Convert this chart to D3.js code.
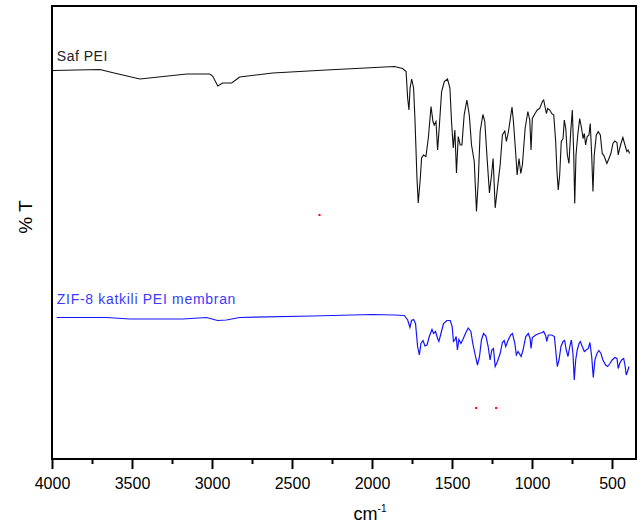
<!DOCTYPE html>
<html>
<head>
<meta charset="utf-8">
<script src="https://cdn.jsdelivr.net/npm/d3@7"></script>
<style>
  body { margin: 0; background: #fff; }
  text { font-family: "Liberation Sans", Arial, sans-serif; }
</style>
</head>
<body>
<div id="chart"></div>
<script>
// FTIR spectra: pure PEI vs ZIF-8 loaded PEI membrane

// [wavenumber (cm-1), %T (arbitrary offset units)]
const safPEI = [
  [3994, 77.7], [3700, 77.9], [3638, 77.4], [3451, 76.0], [3158, 77.0], [3014, 77.0],
  [2996, 76.6], [2964, 74.6], [2933, 75.2], [2877, 75.2], [2827, 76.4], [2621, 77.2],
  [2285, 77.8], [1860, 78.5], [1809, 78.1], [1787, 77.5], [1777, 72.1], [1769, 69.8],
  [1762, 74.2], [1752, 76.0], [1740, 74.2], [1731, 67.5], [1719, 56.2], [1711, 51.2],
  [1698, 56.2], [1690, 60.2], [1678, 60.8], [1663, 60.5], [1648, 64.2], [1631, 70.5],
  [1619, 67.5], [1611, 66.8], [1600, 67.5], [1590, 61.8], [1580, 66.2], [1565, 73.5],
  [1548, 75.5], [1528, 76.0], [1513, 74.2], [1503, 67.5], [1492, 62.2], [1482, 65.8],
  [1472, 57.2], [1461, 64.5], [1449, 62.8], [1438, 62.8], [1424, 68.8], [1407, 71.8],
  [1392, 68.8], [1378, 62.8], [1361, 59.5], [1347, 49.5], [1336, 55.5], [1324, 65.5],
  [1307, 68.9], [1295, 67.5], [1282, 60.8], [1266, 53.2], [1253, 56.8], [1243, 60.1],
  [1230, 50.2], [1216, 54.2], [1199, 58.8], [1185, 64.8], [1170, 65.6], [1160, 63.5],
  [1147, 65.5], [1125, 70.4], [1116, 67.5], [1101, 60.8], [1093, 56.8], [1081, 60.1],
  [1070, 57.1], [1060, 58.8], [1043, 66.1], [1026, 69.5], [1014, 67.8], [1006, 61.8],
  [998, 68.1], [981, 69.1], [967, 69.8], [952, 70.1], [935, 71.5], [927, 71.8],
  [919, 70.5], [910, 69.1], [902, 70.1], [889, 69.8], [877, 69.1], [864, 68.8],
  [852, 63.5], [844, 57.5], [836, 53.8], [827, 56.8], [817, 63.5], [806, 64.1],
  [798, 67.8], [789, 66.1], [779, 60.8], [769, 59.1], [758, 65.5], [748, 69.8],
  [739, 60.8], [733, 51.1], [725, 60.8], [714, 64.8], [702, 68.1], [690, 66.1],
  [681, 64.1], [673, 65.1], [665, 62.8], [655, 64.5], [644, 64.8], [636, 67.1],
  [627, 60.8], [619, 53.5], [611, 60.8], [598, 64.8], [586, 65.5], [573, 64.8],
  [561, 61.1], [552, 60.8], [540, 59.8], [532, 59.1], [519, 60.1], [507, 61.1],
  [494, 63.1], [482, 63.6], [469, 63.3], [461, 60.8], [452, 62.1], [444, 63.1],
  [432, 64.3], [419, 62.8], [407, 61.5], [399, 61.8], [390, 61.1]
];

const zifPEI = [
  [3971, 28.3], [3659, 28.3], [3514, 28.0], [3183, 28.0], [3035, 28.3], [2965, 27.7],
  [2910, 27.8], [2827, 28.3], [2372, 28.6], [1998, 28.9], [1860, 28.8], [1798, 28.7],
  [1777, 27.8], [1763, 26.3], [1753, 27.7], [1740, 27.9], [1728, 27.1], [1715, 22.5],
  [1704, 20.8], [1694, 23.1], [1681, 23.7], [1669, 22.6], [1656, 22.8], [1642, 24.5],
  [1625, 25.9], [1615, 25.1], [1603, 25.5], [1590, 24.1], [1582, 23.5], [1569, 25.1],
  [1553, 27.1], [1532, 27.7], [1511, 27.7], [1499, 26.5], [1491, 23.5], [1482, 23.8],
  [1474, 24.5], [1466, 21.8], [1457, 23.9], [1444, 23.1], [1432, 23.9], [1416, 25.1],
  [1399, 26.2], [1382, 25.5], [1370, 23.1], [1357, 21.1], [1341, 18.8], [1328, 20.5],
  [1316, 23.8], [1303, 25.1], [1288, 24.6], [1274, 22.5], [1262, 19.8], [1251, 21.8],
  [1241, 22.1], [1230, 18.5], [1216, 19.5], [1199, 21.1], [1185, 23.3], [1174, 23.7],
  [1164, 22.5], [1149, 23.8], [1133, 24.8], [1122, 25.1], [1107, 23.1], [1098, 20.8],
  [1087, 21.5], [1068, 20.5], [1056, 21.8], [1039, 24.5], [1023, 25.1], [1012, 24.1],
  [1006, 22.1], [998, 24.3], [977, 24.8], [956, 25.1], [935, 25.3], [927, 25.5],
  [914, 24.6], [908, 23.5], [898, 24.8], [877, 24.8], [860, 24.5], [852, 21.8],
  [842, 18.5], [831, 19.8], [819, 22.5], [806, 23.5], [796, 23.7], [786, 21.8],
  [775, 20.5], [764, 22.5], [754, 23.8], [744, 21.1], [736, 15.8], [727, 19.8],
  [717, 21.8], [706, 23.1], [698, 23.5], [686, 22.5], [673, 21.5], [661, 21.8],
  [648, 22.1], [638, 23.3], [627, 20.5], [617, 16.3], [607, 19.8], [594, 21.1],
  [582, 21.7], [569, 21.1], [557, 19.8], [540, 18.8], [527, 18.5], [515, 19.0],
  [499, 19.8], [482, 20.3], [469, 20.1], [461, 18.1], [452, 19.1], [440, 19.8],
  [427, 20.1], [419, 18.8], [411, 16.8], [403, 17.5], [394, 18.5]
];

// stray red specks present in the original export
const specks = [[4000, 48.4], [2328, 48.8], [1349, 10.2], [1224, 10.2]];

const xTicks = [4000, 3500, 3000, 2500, 2000, 1500, 1000, 500];
const seriesNames = ["Saf PEI", "ZIF-8 katkili PEI membran"];

const width = 643, height = 527;
const margin = {top: 6, right: 7, bottom: 68, left: 52};

const svg = d3.select("#chart")
    .append("svg")
    .attr("width", width)
    .attr("height", height);

const x = d3.scaleLinear()
    .domain([4000, 350])
    .range([margin.left, width - margin.right]);

const y = d3.scaleLinear()
    .domain([0, 90.6])
    .range([height - margin.bottom, margin.top]);

const line = d3.line()
    .x(d => x(d[0]))
    .y(d => y(d[1]));

// Spectra
svg.append("path")
    .datum(safPEI)
    .attr("fill", "none")
    .attr("stroke", "#111")
    .attr("stroke-width", 1.1)
    .attr("d", line);

svg.append("path")
    .datum(zifPEI)
    .attr("fill", "none")
    .attr("stroke", "#1414ff")
    .attr("stroke-width", 1.2)
    .attr("d", line);

svg.selectAll("rect.speck")
    .data(specks)
    .enter()
    .append("rect")
    .attr("class", "speck")
    .attr("x", d => x(d[0]) - 1)
    .attr("y", d => y(d[1]) - 1)
    .attr("width", 2)
    .attr("height", 2)
    .attr("fill", "#ff0000");

// Frame
svg.append("rect")
    .attr("x", margin.left)
    .attr("y", margin.top)
    .attr("width", width - margin.left - margin.right)
    .attr("height", height - margin.top - margin.bottom)
    .attr("fill", "none")
    .attr("stroke", "#000")
    .attr("stroke-width", 2);

// Bottom axis: majors every 500, minors in between
const xAxis = d3.axisBottom(x)
    .tickValues(xTicks)
    .tickSize(10)
    .tickSizeOuter(0)
    .tickFormat(d3.format("d"));

const gx = svg.append("g")
    .attr("transform", `translate(0,${height - margin.bottom})`)
    .call(xAxis);
gx.select(".domain").remove();
gx.selectAll(".tick line").attr("stroke-width", 2);
gx.selectAll(".tick text")
    .attr("dy", "1.05em")
    .style("font-size", "16px")
    .attr("fill", "#000");

const gMinor = svg.append("g")
    .attr("transform", `translate(0,${height - margin.bottom})`)
    .call(d3.axisBottom(x)
        .tickValues(xTicks.map(d => d - 250).filter(d => d > 350))
        .tickSize(5)
        .tickFormat(""));
gMinor.select(".domain").remove();
gMinor.selectAll(".tick line").attr("stroke-width", 2);

// Axis titles
const xt = svg.append("text")
    .attr("x", x(2000) - 2)
    .attr("y", 520)
    .attr("text-anchor", "middle")
    .style("font-size", "18px")
    .attr("fill", "#000");
xt.append("tspan").text("cm");
xt.append("tspan").attr("dy", -8).style("font-size", "10px").text("-1");

svg.append("text")
    .attr("transform", `translate(32,${y(48.4)}) rotate(-90)`)
    .attr("text-anchor", "middle")
    .style("font-size", "19px")
    .attr("fill", "#000")
    .text("% T");

// Series labels
svg.append("text")
    .attr("x", x(3970))
    .attr("y", y(79.6))
    .style("font-size", "14px")
    .style("letter-spacing", "0.5px")
    .attr("fill", "#222")
    .text(seriesNames[0]);

svg.append("text")
    .attr("x", x(3970))
    .attr("y", y(31))
    .style("font-size", "14px")
    .style("letter-spacing", "0.7px")
    .attr("fill", "#3a3aff")
    .text(seriesNames[1]);
</script>
</body>
</html>
